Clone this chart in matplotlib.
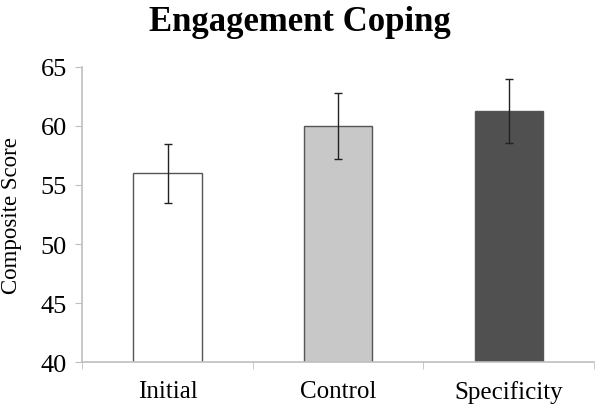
import numpy as np
import matplotlib.pyplot as plt

plt.rcParams['font.family'] = ['Liberation Serif', 'DejaVu Serif']

groups = ['Initial', 'Control', 'Specificity']
means = [56.0, 60.0, 61.25]
errs = [2.5, 2.8, 2.7]
colors = ['#ffffff', '#c8c8c8', '#505050']

fig = plt.figure(figsize=(6, 4.14), dpi=100)
ax = fig.add_axes([0.137, 0.123, 0.853, 0.713])

x = np.arange(len(groups))
ax.bar(x, means, width=0.4, color=colors, edgecolor='#555555', linewidth=1.0, zorder=2)
ax.errorbar(x, means, yerr=errs, fmt='none', ecolor='#222222', elinewidth=1.0,
            capsize=3, capthick=1.0, zorder=3)

ax.set_ylim(40, 65)
ax.set_xlim(-0.5, 2.5)
ax.set_yticks(np.arange(40, 66, 5))
ax.set_xticks(x)
ax.set_xticklabels(groups)
ax.set_xticks(np.arange(-0.5, 2.6, 1), minor=True)
ax.tick_params(axis='x', which='major', length=0, labelsize=18, pad=13)
ax.tick_params(axis='x', which='minor', length=5, color='#bfbfbf', direction='out')
ax.tick_params(axis='y', labelsize=19, length=5, color='#bfbfbf', pad=6)

for s in ['top', 'right']:
    ax.spines[s].set_visible(False)
for s in ['left', 'bottom']:
    ax.spines[s].set_color('#bfbfbf')
    ax.spines[s].set_linewidth(1.2)

ax.set_ylabel('Composite Score', fontsize=16.5)
ax.yaxis.set_label_coords(-0.118, 0.5)
fig.suptitle('Engagement Coping', fontsize=25, fontweight='bold', y=0.985, va='top')

fig.savefig('out.png', dpi=100)
